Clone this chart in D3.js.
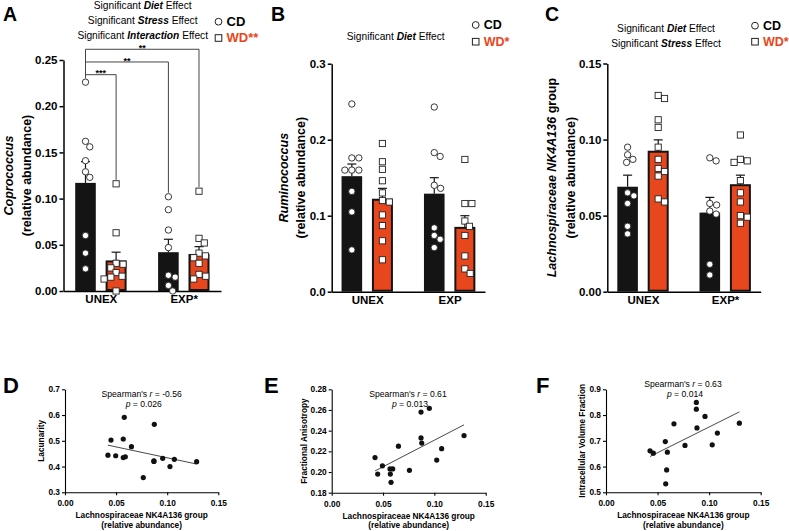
<!DOCTYPE html>
<html><head><meta charset="utf-8">
<script src="https://cdn.jsdelivr.net/npm/d3@7"></script>
<style>
body{margin:0;background:#fff}
svg{display:block;font-family:"Liberation Sans",Arial,Helvetica,sans-serif}
</style></head><body>
<svg id="c" width="789" height="531"></svg>
<script>
// ---------- DATA ----------
const groups = ["UNEX", "EXP"];
const groupLabelsA = ["UNEX", "EXP*"];
const groupLabelsB = ["UNEX", "EXP"];
const groupLabelsC = ["UNEX", "EXP*"];
const diets = ["CD", "WD"];
// order of cells: CD-UNEX, WD-UNEX, CD-EXP, WD-EXP
// Panel A: Coprococcus
const coproMean = [0.117, 0.032, 0.042, 0.039];
const coproSem  = [0.023, 0.010, 0.014, 0.009];
const coproCD_UNEX = [0.226, 0.162, 0.156, 0.141, 0.129, 0.123, 0.060, 0.041, 0.024];
const coproWD_UNEX = [0.116, 0.063, 0.030, 0.029, 0.025, 0.020, 0.016, 0.015, 0.013, 0.000];
const coproCD_EXP  = [0.102, 0.088, 0.066, 0.047, 0.017, 0.015, 0.006, 0.000];
const coproWD_EXP  = [0.108, 0.057, 0.052, 0.041, 0.038, 0.036, 0.030, 0.018, 0.016, 0.013];
const coproComparisons = [
  ["UNEX", "CD", "UNEX", "WD", "***"],
  ["UNEX", "CD", "EXP", "CD", "**"],
  ["UNEX", "CD", "EXP", "WD", "**"]
];
// Panel B: Ruminococcus
const rumiMean = [0.152, 0.121, 0.129, 0.084];
const rumiSem  = [0.016, 0.015, 0.021, 0.016];
const rumiCD_UNEX = [0.247, 0.176, 0.176, 0.160, 0.160, 0.160, 0.132, 0.105, 0.055];
const rumiWD_UNEX = [0.195, 0.171, 0.161, 0.146, 0.130, 0.120, 0.118, 0.101, 0.087, 0.067, 0.042];
const rumiCD_EXP  = [0.243, 0.183, 0.178, 0.140, 0.136, 0.084, 0.074, 0.069, 0.058];
const rumiWD_EXP  = [0.174, 0.116, 0.116, 0.093, 0.086, 0.074, 0.047, 0.030, 0.024];
// Panel C: Lachnospiraceae NK4A136 group
const lachMean = [0.069, 0.092, 0.052, 0.070];
const lachSem  = [0.0076, 0.0078, 0.010, 0.0066];
const lachCD_UNEX = [0.095, 0.090, 0.087, 0.085, 0.065, 0.063, 0.058, 0.043, 0.038];
const lachWD_UNEX = [0.129, 0.127, 0.113, 0.108, 0.095, 0.087, 0.081, 0.079, 0.076, 0.061, 0.059];
const lachCD_EXP  = [0.088, 0.086, 0.058, 0.057, 0.053, 0.051, 0.018, 0.011];
const lachWD_EXP  = [0.103, 0.087, 0.086, 0.085, 0.073, 0.065, 0.059, 0.050, 0.049, 0.045];
// Panels D-F: correlations
const lachAbundD = [0.042, 0.045, 0.0496, 0.057, 0.057, 0.058, 0.059, 0.065, 0.0766, 0.087, 0.087, 0.0874, 0.0956, 0.1027, 0.107, 0.1288];
const lacunarity = [0.444, 0.503, 0.442, 0.507, 0.435, 0.591, 0.438, 0.477, 0.357, 0.422, 0.420, 0.564, 0.432, 0.400, 0.428, 0.419];
const lachAbundE = [0.0422, 0.0448, 0.0494, 0.0568, 0.0571, 0.0578, 0.0594, 0.065, 0.0757, 0.087, 0.087, 0.0877, 0.0951, 0.1023, 0.1071, 0.1289];
const fracAniso  = [0.214, 0.198, 0.206, 0.203, 0.198, 0.190, 0.203, 0.225, 0.2016, 0.258, 0.233, 0.228, 0.2616, 0.2116, 0.2226, 0.2352];
const lachAbundF = [0.0427, 0.0459, 0.0575, 0.0579, 0.0588, 0.0595, 0.0659, 0.0766, 0.0876, 0.0876, 0.0882, 0.096, 0.103, 0.108, 0.1293];
const icvf       = [0.661, 0.652, 0.697, 0.533, 0.587, 0.656, 0.766, 0.682, 0.849, 0.823, 0.750, 0.7945, 0.6845, 0.730, 0.7686];
const xTicksScatter = [0, 0.05, 0.10, 0.15];
const yTicksA = [0, 0.05, 0.10, 0.15, 0.20, 0.25];
const yTicksB = [0, 0.1, 0.2, 0.3];
const yTicksC = [0, 0.05, 0.10, 0.15];
const yTicksD = [0.3, 0.4, 0.5, 0.6, 0.7];
const yTicksE = [0.18, 0.20, 0.22, 0.24, 0.26, 0.28];
const yTicksF = [0.5, 0.6, 0.7, 0.8, 0.9];

// ---------- STYLE ----------
const ORANGE = "#E8471D";
const BLACK = "#141414";
const svg = d3.select("#c");

function swarm(vals, y, d) {
  const pts = vals.map(v => ({v, py: y(v)})).sort((a, b) => b.v - a.v);
  const placed = [];
  pts.forEach(p => {
    const cands = [0];
    placed.forEach(q => {
      const dy = p.py - q.py;
      if (Math.abs(dy) < d) {
        const dx = Math.sqrt(d * d - dy * dy);
        cands.push(q.dx + dx + 0.01, q.dx - dx - 0.01);
      }
    });
    cands.sort((a, b) => Math.abs(a) - Math.abs(b) || b - a);
    for (const c of cands) {
      if (placed.every(q => Math.hypot(c - q.dx, p.py - q.py) >= d - 0.02)) { p.dx = c; break; }
    }
    placed.push(p);
  });
  return placed;
}

function styleAxis(sel, fs) {
  sel.selectAll("path.domain").attr("stroke", "#000").attr("stroke-width", 1.5);
  sel.selectAll(".tick line").attr("stroke", "#000").attr("stroke-width", 1.5);
  sel.selectAll("text").attr("font-size", fs).attr("font-weight", "bold").attr("fill", "#000")
    .attr("font-family", '"Liberation Sans",Arial,sans-serif');
}

function barPanel(o) {
  const g = svg.append("g");
  const y = d3.scaleLinear().domain([0, o.max]).range([o.yB, o.yT]);
  const xg = d3.scalePoint().domain(groups).range([o.xL, o.xR]).padding(o.pad);
  const xd = d3.scalePoint().domain(diets).range([-15.3, 15.3]);

  const ya = g.append("g").attr("transform", `translate(${o.xL},0)`)
    .call(d3.axisLeft(y).tickValues(o.yTicks).tickFormat(d3.format(o.fmt)).tickSize(4).tickSizeOuter(0).tickPadding(2));
  styleAxis(ya, 11.5);
  const xa = g.append("g").attr("transform", `translate(0,${o.yB})`)
    .call(d3.axisBottom(xg).tickSize(0).tickSizeOuter(0).tickPadding(4).tickFormat((d, i) => o.xLabels[i]));
  styleAxis(xa, 11.5);

  const cells = [];
  groups.forEach((gr, gi) => diets.forEach((dt, di) => {
    const k = gi * 2 + di;
    cells.push({gr, dt, mean: o.mean[k], sem: o.sem[k], pts: o.pts[k], cx: xg(gr) + xd(dt)});
  }));

  cells.forEach(c => {
    if (c.dt === "CD") {
      g.append("rect").attr("x", c.cx - 10.3).attr("width", 20.6)
        .attr("y", y(c.mean)).attr("height", y(0) - y(c.mean)).attr("fill", BLACK);
    } else {
      g.append("rect").attr("x", c.cx - 9.5).attr("width", 19)
        .attr("y", y(c.mean)).attr("height", y(0) - y(c.mean) - 1)
        .attr("fill", ORANGE).attr("stroke", BLACK).attr("stroke-width", 2);
    }
  });
  cells.forEach(c => {
    g.append("line").attr("x1", c.cx).attr("x2", c.cx).attr("y1", y(c.mean)).attr("y2", y(c.mean + c.sem))
      .attr("stroke", BLACK).attr("stroke-width", 1.2);
    g.append("line").attr("x1", c.cx - 4.5).attr("x2", c.cx + 4.5).attr("y1", y(c.mean + c.sem)).attr("y2", y(c.mean + c.sem))
      .attr("stroke", BLACK).attr("stroke-width", 1.2);
  });
  cells.forEach(c => {
    const sw = swarm(c.pts, y, 7);
    sw.forEach(p => {
      if (c.dt === "CD") {
        g.append("circle").attr("cx", c.cx + p.dx).attr("cy", p.py).attr("r", 3.2)
          .attr("fill", "#fff").attr("stroke", "#222").attr("stroke-width", 0.9);
      } else {
        g.append("rect").attr("x", c.cx + p.dx - 3.1).attr("y", p.py - 3.1).attr("width", 6.2).attr("height", 6.2)
          .attr("fill", "#fff").attr("stroke", "#222").attr("stroke-width", 0.9);
      }
    });
    c.maxPy = y(d3.max(c.pts));
  });

  if (o.comparisons) {
    o.comparisons.forEach((cmp, i) => {
      const src = cells.find(c => c.gr === cmp[0] && c.dt === cmp[1]);
      const tgt = cells.find(c => c.gr === cmp[2] && c.dt === cmp[3]);
      const yl = src.maxPy - 7.5 - i * 12.7;
      g.append("path")
        .attr("d", `M${src.cx},${src.maxPy - 4}V${yl}H${tgt.cx}V${tgt.maxPy - 4}`)
        .attr("fill", "none").attr("stroke", "#444").attr("stroke-width", 1);
      g.append("text").attr("x", (src.cx + tgt.cx) / 2).attr("y", yl + 1.8)
        .attr("text-anchor", "middle").attr("font-size", 9).attr("font-weight", "bold").text(cmp[4]);
    });
  }

  const cy = (o.yB + o.yT) / 2;
  const t1 = g.append("text").attr("transform", `translate(${o.tX1},${cy}) rotate(-90)`)
    .attr("text-anchor", "middle").attr("font-size", 12.5).attr("font-weight", "bold");
  o.title1.forEach(s => t1.append("tspan").attr("font-style", s[1] ? "italic" : "normal").text(s[0]));
  g.append("text").attr("transform", `translate(${o.tX2},${cy}) rotate(-90)`)
    .attr("text-anchor", "middle").attr("font-size", 12.5).attr("font-weight", "bold").text("(relative abundance)");

  o.notes.forEach((n, i) => {
    const t = g.append("text").attr("x", o.noteX).attr("y", o.noteY + i * 15).attr("text-anchor", "middle").attr("font-size", 10.2);
    t.append("tspan").text("Significant ");
    t.append("tspan").attr("font-weight", "bold").attr("font-style", "italic").text(n);
    t.append("tspan").text(" Effect");
  });

  const L = o.legend;
  g.append("circle").attr("cx", L.x).attr("cy", L.y1).attr("r", 3.4).attr("fill", "#fff").attr("stroke", "#222").attr("stroke-width", 1);
  g.append("rect").attr("x", L.x - 3.3).attr("y", L.y2 - 3.3).attr("width", 6.6).attr("height", 6.6).attr("fill", "#fff").attr("stroke", "#222").attr("stroke-width", 1);
  g.append("text").attr("x", L.x + 8).attr("y", L.y1 + 4.3).attr("font-size", L.fs).attr("font-weight", "bold").text("CD");
  g.append("text").attr("x", L.x + 8).attr("y", L.y2 + 4.3).attr("font-size", L.fs).attr("font-weight", "bold").attr("fill", ORANGE).text(L.wd);

  g.append("text").attr("x", o.letterX).attr("y", 20.5).attr("font-size", 19.5).attr("font-weight", "bold").text(o.letter);
}

function scatterPanel(o) {
  const g = svg.append("g");
  const x = d3.scaleLinear().domain([0, 0.15]).range([o.xL, o.xR]);
  const y = d3.scaleLinear().domain(o.yDom).range([o.yB, o.yT]);
  const xa = g.append("g").attr("transform", `translate(0,${o.yB})`)
    .call(d3.axisBottom(x).tickValues(xTicksScatter).tickFormat(d3.format(".2f")).tickSize(3).tickSizeOuter(0).tickPadding(5));
  styleAxis(xa, 8.3);
  const ya = g.append("g").attr("transform", `translate(${o.xL},0)`)
    .call(d3.axisLeft(y).tickValues(o.yTicks).tickFormat(d3.format(o.fmt)).tickSize(3).tickSizeOuter(0).tickPadding(2));
  styleAxis(ya, 8.3);
  [xa, ya].forEach(a => { a.selectAll("path.domain").attr("stroke-width", 1.1); a.selectAll(".tick line").attr("stroke-width", 1.1); });

  const mx = d3.mean(o.xs), my = d3.mean(o.ys);
  const b = d3.sum(o.xs, (v, i) => (v - mx) * (o.ys[i] - my)) / d3.sum(o.xs, v => (v - mx) * (v - mx));
  const a0 = my - b * mx;
  const [x0, x1] = d3.extent(o.xs);
  g.append("line").attr("x1", x(x0)).attr("x2", x(x1)).attr("y1", y(a0 + b * x0)).attr("y2", y(a0 + b * x1))
    .attr("stroke", "#333").attr("stroke-width", 0.9);
  o.xs.forEach((v, i) => {
    g.append("circle").attr("cx", x(v)).attr("cy", y(o.ys[i])).attr("r", 2.6).attr("fill", "#111");
  });

  const xc = (o.xL + o.xR) / 2;
  g.append("text").attr("x", xc).attr("y", o.yB + 26).attr("text-anchor", "middle").attr("font-size", 8.3).attr("font-weight", "bold").text("Lachnospiraceae NK4A136 group");
  g.append("text").attr("x", xc).attr("y", o.yB + 35.5).attr("text-anchor", "middle").attr("font-size", 8.3).attr("font-weight", "bold").text("(relative abundance)");
  g.append("text").attr("transform", `translate(${o.ylX},${(o.yB + o.yT) / 2}) rotate(-90)`)
    .attr("text-anchor", "middle").attr("font-size", 8.3).attr("font-weight", "bold").text(o.ylabel);

  const t1 = g.append("text").attr("x", o.annX).attr("y", o.annY).attr("text-anchor", "middle").attr("font-size", 8.6);
  t1.append("tspan").text("Spearman's ");
  t1.append("tspan").attr("font-style", "italic").text("r");
  t1.append("tspan").text(" = " + o.r);
  const t2 = g.append("text").attr("x", o.annX + 2).attr("y", o.annY + 10).attr("text-anchor", "middle").attr("font-size", 8.6);
  t2.append("tspan").attr("font-style", "italic").text("p");
  t2.append("tspan").text(" = " + o.p);

  g.append("text").attr("x", o.letterX).attr("y", 393).attr("font-size", 22).attr("font-weight", "bold").text(o.letter);
}

barPanel({
  letter: "A", letterX: 3,
  xL: 63.5, xR: 221, yB: 291, yT: 60, max: 0.25, pad: 0.45, yTicks: yTicksA, fmt: ".2f",
  xLabels: groupLabelsA, mean: coproMean, sem: coproSem,
  pts: [coproCD_UNEX, coproWD_UNEX, coproCD_EXP, coproWD_EXP],
  comparisons: coproComparisons,
  title1: [["Coprococcus", true]], tX1: 13, tX2: 30.5,
  notes: ["Diet", "Stress", "Interaction"], noteX: 142.7, noteY: 8.6,
  legend: {x: 218.5, y1: 21.7, y2: 38, fs: 13, wd: "WD**"}
});
barPanel({
  letter: "B", letterX: 271,
  xL: 331.7, xR: 485, yB: 291.7, yT: 63.7, max: 0.3, pad: 0.43, yTicks: yTicksB, fmt: ".1f",
  xLabels: groupLabelsB, mean: rumiMean, sem: rumiSem,
  pts: [rumiCD_UNEX, rumiWD_UNEX, rumiCD_EXP, rumiWD_EXP],
  title1: [["Ruminococcus", true]], tX1: 288, tX2: 305,
  notes: ["Diet"], noteX: 395.7, noteY: 39.8,
  legend: {x: 475.7, y1: 25, y2: 41.7, fs: 12.5, wd: "WD*"}
});
barPanel({
  letter: "C", letterX: 545,
  xL: 607.3, xR: 760.7, yB: 291.7, yT: 63.5, max: 0.15, pad: 0.433, yTicks: yTicksC, fmt: ".2f",
  xLabels: groupLabelsC, mean: lachMean, sem: lachSem,
  pts: [lachCD_UNEX, lachWD_UNEX, lachCD_EXP, lachWD_EXP],
  title1: [["Lachnospiraceae NK4A136", true], [" group", false]], tX1: 556, tX2: 575,
  notes: ["Diet", "Stress"], noteX: 666, noteY: 32.2,
  legend: {x: 755, y1: 25.7, y2: 41.7, fs: 12.5, wd: "WD*"}
});

scatterPanel({
  letter: "D", letterX: 3, xL: 65, xR: 218.3, yB: 492.3, yT: 389.3, yDom: [0.3, 0.7], yTicks: yTicksD, fmt: ".1f",
  xs: lachAbundD, ys: lacunarity, ylabel: "Lacunarity", ylX: 44,
  r: "-0.56", p: "0.026", annX: 141.7, annY: 397
});
scatterPanel({
  letter: "E", letterX: 264, xL: 331.7, xR: 485.7, yB: 492.7, yT: 389.3, yDom: [0.18, 0.28], yTicks: yTicksE, fmt: ".2f",
  xs: lachAbundE, ys: fracAniso, ylabel: "Fractional Anisotropy", ylX: 307,
  r: "0.61", p: "0.013", annX: 408, annY: 397
});
scatterPanel({
  letter: "F", letterX: 536, xL: 606, xR: 760.7, yB: 492.3, yT: 389.3, yDom: [0.5, 0.9], yTicks: yTicksF, fmt: ".1f",
  xs: lachAbundF, ys: icvf, ylabel: "Intracellular Volume Fraction", ylX: 585,
  r: "0.63", p: "0.014", annX: 683, annY: 386.5
});
</script>
</body></html>
